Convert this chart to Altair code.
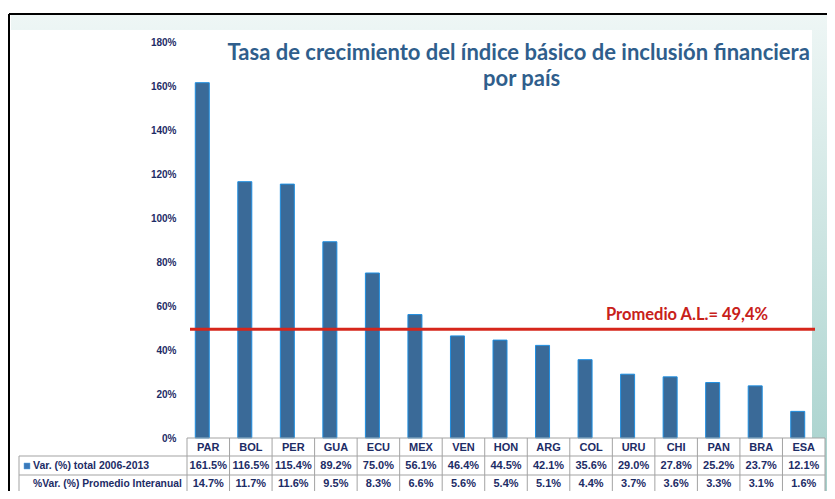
import altair as alt
import pandas as pd

# ---- data ----
countries = ["PAR", "BOL", "PER", "GUA", "ECU", "MEX", "VEN", "HON", "ARG", "COL",
             "URU", "CHI", "PAN", "BRA", "ESA"]
total_var = [161.5, 116.5, 115.4, 89.2, 75.0, 56.1, 46.4, 44.5, 42.1, 35.6,
             29.0, 27.8, 25.2, 23.7, 12.1]
interanual = [14.7, 11.7, 11.6, 9.5, 8.3, 6.6, 5.6, 5.4, 5.1, 4.4,
              3.7, 3.6, 3.3, 3.1, 1.6]
promedio = [49.4]
promedio_label = ["Promedio A.L.= 49,4%"]
title_lines = ["Tasa de crecimiento del índice básico de inclusión financiera", "por país"]
row_labels = ["Var. (%) total 2006-2013", "%Var. (%) Promedio Interanual"]
y_ticks = [0, 20, 40, 60, 80, 100, 120, 140, 160, 180]

df = pd.DataFrame({
    "pais": countries,
    "total": total_var,
    "inter": interanual,
    "total_lbl": [f"{v:.1f}%" for v in total_var],
    "inter_lbl": [f"{v:.1f}%" for v in interanual],
})

W, H = 638, 396
NAVY = "#1d2c66"
NARROW = "Liberation Sans Narrow, Liberation Sans, Arial, sans-serif"
TITLEF = "Lato, Open Sans, sans-serif"


def xenc(**kw):
    return alt.X("pais:N", sort=countries,
                 scale=alt.Scale(paddingInner=0, paddingOuter=0), axis=None, **kw)


base = alt.Chart(df)

# ---- decorative background ----
bg_data = pd.DataFrame({"k": [0]})
teal = alt.Chart(bg_data).mark_rect(
    color=alt.Gradient(gradient="linear", x1=0, x2=0, y1=0, y2=1,
                       stops=[alt.GradientStop(color="#eef6f5", offset=0),
                              alt.GradientStop(color="#a6d1cc", offset=1)])
).encode(x=alt.value(-176), x2=alt.value(640), y=alt.value(-27), y2=alt.value(449))
white = alt.Chart(bg_data).mark_rect(color="white").encode(
    x=alt.value(-176), x2=alt.value(625), y=alt.value(-12), y2=alt.value(449))
frame_top = alt.Chart(bg_data).mark_rule(color="black", strokeWidth=2).encode(
    x=alt.value(-178), x2=alt.value(640), y=alt.value(-28))
frame_left = alt.Chart(bg_data).mark_rule(color="black", strokeWidth=2).encode(
    x=alt.value(-178), y=alt.value(-28), y2=alt.value(449))

# ---- bars ----
bars = base.mark_bar(size=14, xOffset=-6, color="#3a6a98", stroke="#1e8ee0",
                     strokeWidth=1).encode(
    x=xenc(),
    y=alt.Y("total:Q", scale=alt.Scale(domain=[0, 180]),
            axis=alt.Axis(values=y_ticks, labelExpr="datum.value + '%'",
                          title=None, domain=False, ticks=False, grid=False,
                          labelPadding=11, labelFont=NARROW, labelFontWeight="bold",
                          labelFontSize=10, labelColor=NAVY, zindex=2)),
)

# ---- average line ----
prom_df = pd.DataFrame({"prom": promedio, "lbl": promedio_label})
prom_rule = alt.Chart(prom_df).mark_rule(color="#d6261b", strokeWidth=3).encode(
    y=alt.Y("prom:Q"), x=alt.value(3), x2=alt.value(628))
prom_text = alt.Chart(prom_df).mark_text(
    color="#c8211a", font=TITLEF, fontWeight="bold", fontSize=16.5,
    baseline="alphabetic", dy=-9).encode(
    y=alt.Y("prom:Q"), x=alt.value(500), text="lbl:N")

# ---- title ----
title_df = pd.DataFrame({"t": title_lines})
title1 = alt.Chart(title_df.iloc[[0]]).mark_text(
    font=TITLEF, fontWeight="bold", fontSize=22, color="#2f5e8c", baseline="alphabetic"
).encode(text="t:N", x=alt.value(331.7), y=alt.value(18))
title2 = alt.Chart(title_df.iloc[[1]]).mark_text(
    font=TITLEF, fontWeight="bold", fontSize=22, color="#2f5e8c", baseline="alphabetic"
).encode(text="t:N", x=alt.value(334.7), y=alt.value(44))

# ---- data table ----
GRID = "#a3a3a3"
tbl_bg1 = alt.Chart(bg_data).mark_rect(color="white").encode(
    x=alt.value(0), x2=alt.value(W), y=alt.value(396), y2=alt.value(449))
tbl_bg2 = alt.Chart(bg_data).mark_rect(color="white").encode(
    x=alt.value(-168), x2=alt.value(0), y=alt.value(414), y2=alt.value(449))
hline0 = alt.Chart(bg_data).mark_rule(color=GRID, strokeWidth=1).encode(
    x=alt.value(0), x2=alt.value(W), y=alt.value(396))
hline1 = alt.Chart(bg_data).mark_rule(color=GRID, strokeWidth=1).encode(
    x=alt.value(-168), x2=alt.value(W), y=alt.value(414))
hline2 = alt.Chart(bg_data).mark_rule(color=GRID, strokeWidth=1).encode(
    x=alt.value(-168), x2=alt.value(W), y=alt.value(433))
vlines = base.mark_rule(color=GRID, strokeWidth=1).encode(
    x=xenc(bandPosition=0), y=alt.value(396), y2=alt.value(449))
vlast = alt.Chart(bg_data).mark_rule(color=GRID, strokeWidth=1).encode(
    x=alt.value(W), y=alt.value(396), y2=alt.value(449))
vleft = alt.Chart(bg_data).mark_rule(color=GRID, strokeWidth=1).encode(
    x=alt.value(-168), y=alt.value(414), y2=alt.value(449))

txt_kw = dict(font=NARROW, fontWeight="bold", fontSize=11, color=NAVY, baseline="middle")
hdr = base.mark_text(**txt_kw).encode(x=xenc(), y=alt.value(405.5), text="pais:N")
row1 = base.mark_text(**txt_kw).encode(x=xenc(), y=alt.value(424), text="total_lbl:N")
row2 = base.mark_text(**txt_kw).encode(x=xenc(), y=alt.value(441.5), text="inter_lbl:N")

rl_df = pd.DataFrame({"t": row_labels})
rl1 = alt.Chart(rl_df.iloc[[0]]).mark_text(align="left", **{**txt_kw, "fontSize": 10.5}).encode(
    text="t:N", x=alt.value(-154), y=alt.value(424))
rl2 = alt.Chart(rl_df.iloc[[1]]).mark_text(align="left", **{**txt_kw, "fontSize": 10.3}).encode(
    text="t:N", x=alt.value(-154), y=alt.value(441.5))
legend_sq = alt.Chart(bg_data).mark_rect(color="#3b78b8", stroke="#5aa8e8", strokeWidth=0.5).encode(
    x=alt.value(-163), x2=alt.value(-157), y=alt.value(421), y2=alt.value(427))

chart = alt.layer(
    teal, white, frame_top, frame_left,
    tbl_bg1, tbl_bg2,
    bars, prom_rule, prom_text, title1, title2,
    hline0, hline1, hline2, vlines, vlast, vleft,
    hdr, row1, row2, rl1, rl2, legend_sq,
).properties(
    width=W, height=H,
    autosize=alt.AutoSizeParams(type="none"),
    padding={"left": 179, "top": 34, "right": 2, "bottom": 53},
).configure_view(stroke=None).configure(background="white")

chart.save("out.html", embed_options={"renderer": "svg", "actions": False})
